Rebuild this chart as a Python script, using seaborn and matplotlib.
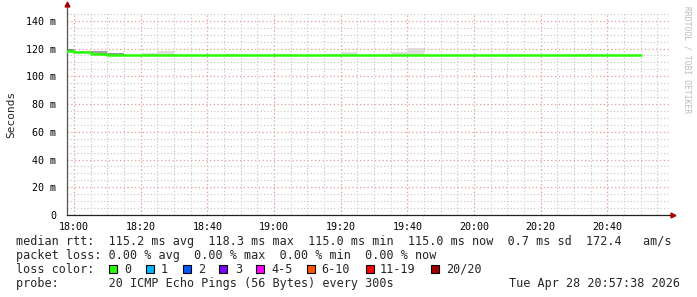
import matplotlib
matplotlib.use("Agg")
import numpy as np
import pandas as pd
import matplotlib.pyplot as plt
from matplotlib.patches import Rectangle
import seaborn as sns

# ---------------- data ----------------
bin_start = pd.date_range("2026-04-28 17:55", periods=35, freq="5min")
median_ms = [118.3, 117.2, 116.3, 115.0, 115.0, 115.0, 115.0, 115.0, 115.0, 115.0,
             115.0, 115.0, 115.0, 115.0, 115.0, 115.0, 115.0, 115.0, 115.0, 115.0,
             115.0, 115.0, 115.0, 115.0, 115.0, 115.0, 115.0, 115.0, 115.0, 115.0,
             115.0, 115.0, 115.0, 115.0, 115.0]
smoke_top_ms = [119.3, 118.0, 118.1, 117.0, 115.0, 116.6, 118.0, 115.0, 115.0, 115.0,
                116.0, 115.0, 115.0, 116.0, 115.0, 115.0, 116.0, 117.3, 115.0, 115.0,
                117.3, 120.2, 115.0, 115.0, 115.0, 115.0, 115.0, 115.0, 115.0, 115.0,
                115.0, 116.0, 115.0, 115.0, 115.0]
smoke_gray = ["#8a8a8a", "#bbbbbb", "#a0a0a0", "#999999"] + ["#dddddd"] * 31

x_tick_min = [0, 20, 40, 60, 80, 100, 120, 140, 160]
x_tick_labels = ["18:00", "18:20", "18:40", "19:00", "19:20", "19:40", "20:00", "20:20", "20:40"]
y_ticks = [0, 20, 40, 60, 80, 100, 120, 140]
y_tick_labels = ["0", "20 m", "40 m", "60 m", "80 m", "100 m", "120 m", "140 m"]

loss_labels = ["0", "1", "2", "3", "4-5", "6-10", "11-19", "20/20"]
loss_colors = ["#26ff00", "#00b8ff", "#0059ff", "#7e00ff", "#ff00ff", "#ff5500", "#ff0000", "#a10000"]

line_rtt = "median rtt:  115.2 ms avg  118.3 ms max  115.0 ms min  115.0 ms now  0.7 ms sd  172.4   am/s"
line_loss = "packet loss: 0.00 % avg  0.00 % max  0.00 % min  0.00 % now"
line_probe = "probe:       20 ICMP Echo Pings (56 Bytes) every 300s"
stamp = "Tue Apr 28 20:57:38 2026"

# ---------------- style ----------------
sns.set_theme(style="white")
plt.rcParams["font.family"] = ["DejaVu Sans Mono"]

W, H = 697, 297
fig = plt.figure(figsize=(W / 100, H / 100), dpi=100)
fig.patch.set_facecolor("white")
ax = fig.add_axes([67 / W, (H - 215) / H, (669 - 67) / W, (215 - 13) / H])
ax.set_facecolor("white")

origin = pd.Timestamp("2026-04-28 18:00")
x_min = np.array([(t - origin).total_seconds() / 60 for t in bin_start])
med = np.array(median_ms)
top = np.array(smoke_top_ms)

# smoke
ax.bar(x_min, top - med, bottom=med, width=5, align="edge", color=smoke_gray,
       linewidth=0, zorder=2)

# median line (steps)
step_x = np.append(x_min, x_min[-1] + 5)
step_y = np.append(med, med[-1])
sns.lineplot(x=step_x, y=step_y, drawstyle="steps-post", color="#26ff00",
             linewidth=1.8, estimator=None, ax=ax, zorder=3)

ax.set_xlim(-2.1, 178.5)
ax.set_ylim(0, 145.6)

ax.set_xticks(x_tick_min)
ax.set_xticklabels(x_tick_labels)
ax.set_xticks(np.arange(-0, 180, 5), minor=True)
ax.set_yticks(y_ticks)
ax.set_yticklabels(y_tick_labels)
ax.set_yticks(np.arange(0, 146, 5), minor=True)

ax.grid(which="minor", color="#c4c4c4", linestyle=(0, (1, 2)), linewidth=0.8, zorder=0)
ax.grid(which="major", color="#e69a9a", linestyle=(0, (1, 2)), linewidth=0.9, zorder=1)
ax.set_axisbelow(True)

ax.tick_params(axis="both", which="major", labelsize=7.2, length=2, width=0.6,
               color="#777777", labelcolor="black")
ax.tick_params(axis="x", which="major", pad=3)
ax.tick_params(axis="y", which="major", pad=6)
ax.tick_params(axis="both", which="minor", length=0)
ax.set_xlabel("")
ax.set_ylabel("")

for s in ["top", "right"]:
    ax.spines[s].set_visible(False)
ax.spines["left"].set_color("#555555")
ax.spines["left"].set_linewidth(0.9)
ax.spines["bottom"].set_color("#222222")
ax.spines["bottom"].set_linewidth(0.9)

# axis arrows
ax.plot([0, 0], [1.0, 1.04], transform=ax.transAxes, color="#555555", lw=0.9, clip_on=False)
ax.plot([0], [1.045], marker="^", markersize=3.5, color="#aa0000", transform=ax.transAxes, clip_on=False)
ax.plot([1.0, 1.003], [0, 0], transform=ax.transAxes, color="#222222", lw=0.9, clip_on=False)
ax.plot([1.006], [0], marker=">", markersize=3.5, color="#aa0000", transform=ax.transAxes, clip_on=False)

# y label
fig.text(11 / W, 1 - 114 / H, "Seconds", rotation=90, ha="center", va="center", fontsize=8)

# watermark
fig.text(687 / W, 1 - 60 / H, "RRDTOOL / TOBI OETIKER", rotation=270, ha="center", va="center",
         fontsize=5.8, color="#bbbbbb")

# legend lines
fs = 8.5
fig.text(16 / W, 1 - 245.5 / H, line_rtt, ha="left", va="baseline", fontsize=fs)
fig.text(16 / W, 1 - 259.3 / H, line_loss, ha="left", va="baseline", fontsize=fs)
fig.text(16 / W, 1 - 273.0 / H, "loss color:", ha="left", va="baseline", fontsize=fs)
fig.text(16 / W, 1 - 286.8 / H, line_probe, ha="left", va="baseline", fontsize=fs)
fig.text(680 / W, 1 - 286.8 / H, stamp, ha="right", va="baseline", fontsize=fs)

box_x = [109, 146, 183, 219, 256, 307, 366, 431]
lab_x = [124, 161, 198, 235, 271, 321, 380, 446]
for bx, lx, lab, col in zip(box_x, lab_x, loss_labels, loss_colors):
    fig.patches.append(Rectangle((bx / W, 1 - 273 / H), 7.5 / W, 8 / H,
                                 transform=fig.transFigure, facecolor=col,
                                 edgecolor="black", linewidth=0.8))
    fig.text(lx / W, 1 - 273.0 / H, lab, ha="left", va="baseline", fontsize=fs)

fig.savefig("out.png", dpi=100, facecolor="white")
